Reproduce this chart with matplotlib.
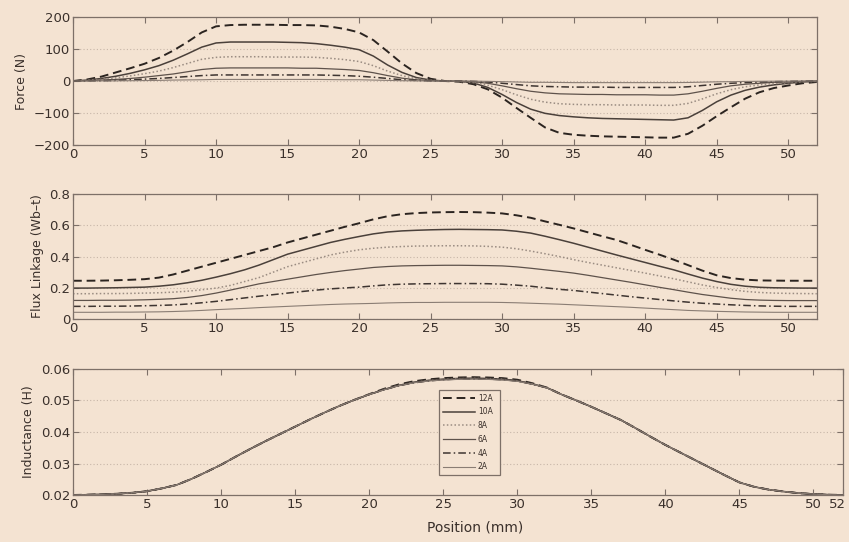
import matplotlib.pyplot as plt
import numpy as np
from matplotlib.transforms import ScaledTranslation

# position along the stroke (mm)
position = np.arange(0, 53)

currents = ['12A', '10A', '8A', '6A', '4A', '2A']

# force (N) vs position
force_12 = [0, 5, 14, 27, 40, 54, 72, 95, 122, 152, 171, 175, 176, 176, 176, 175, 175, 174, 170, 163,
            152, 128, 92, 55, 25, 7, 0, -2, -10, -26, -52, -84, -115, -145, -162, -168, -171, -173, -174, -175,
            -176, -177, -177, -165, -140, -110, -82, -55, -35, -22, -14, -7, -3]
force_10 = [0, 3, 8, 15, 24, 35, 48, 65, 85, 106, 119, 122, 122, 122, 122, 121, 120, 117, 112, 106,
            98, 78, 50, 27, 11, 3, 0, -1, -6, -20, -42, -67, -88, -101, -108, -112, -115, -117, -118, -119,
            -120, -121, -122, -115, -92, -65, -44, -29, -19, -12, -7, -3, -1]
force_8 = [0, 2, 5, 10, 16, 23, 31, 42, 55, 68, 74, 76, 76, 76, 75, 75, 75, 74, 71, 67,
           61, 48, 31, 17, 7, 2, 0, -1, -4, -13, -27, -43, -57, -66, -71, -73, -74, -74, -75, -75,
           -75, -76, -76, -70, -56, -40, -27, -18, -12, -8, -5, -2, -1]
force_6 = [0, 1, 3, 5, 8, 12, 17, 22, 29, 36, 40, 41, 41, 41, 41, 41, 40, 40, 38, 36,
           33, 26, 17, 9, 4, 1, 0, 0, -2, -7, -15, -24, -32, -37, -40, -41, -42, -42, -43, -43,
           -43, -44, -44, -40, -32, -23, -15, -10, -7, -4, -3, -1, 0]
force_4 = [0, 0.5, 1, 2, 4, 6, 8, 11, 14, 17, 19, 19, 19, 19, 19, 19, 19, 19, 18, 17,
           15, 12, 8, 4, 2, 0.5, 0, 0, -1, -3, -7, -11, -15, -17, -18, -19, -19, -19, -20, -20,
           -20, -20, -20, -18, -14, -10, -7, -5, -3, -2, -1, -0.5, 0]
force_2 = [0, 0.2, 0.4, 0.6, 1, 1.5, 2, 3, 3.5, 4, 5, 5, 5, 5, 5, 5, 5, 5, 4.5, 4,
           4, 3, 2, 1, 0.5, 0, 0, 0, -0.5, -1, -2, -3, -4, -4, -4.5, -5, -5, -5, -5, -5,
           -5, -5, -5, -4.5, -3.5, -2.5, -2, -1.2, -0.8, -0.5, -0.3, -0.1, 0]

# flux linkage (Wb-t) vs position
flux_12 = [0.245, 0.245, 0.246, 0.248, 0.251, 0.255, 0.265, 0.285, 0.31, 0.335, 0.36, 0.385, 0.41, 0.435, 0.46, 0.49,
           0.515, 0.54, 0.565, 0.59, 0.613, 0.638, 0.658, 0.671, 0.678, 0.682, 0.684, 0.685, 0.684, 0.681, 0.676,
           0.664, 0.648, 0.625, 0.603, 0.58, 0.555, 0.53, 0.506, 0.475, 0.443, 0.412, 0.38, 0.345, 0.31, 0.28,
           0.262, 0.252, 0.247, 0.246, 0.245, 0.245, 0.245]
flux_10 = [0.198, 0.198, 0.199, 0.2, 0.202, 0.204, 0.21, 0.219, 0.232, 0.248, 0.268, 0.29, 0.315, 0.345, 0.38, 0.415,
           0.44, 0.465, 0.49, 0.51, 0.528, 0.545, 0.557, 0.564, 0.568, 0.571, 0.573, 0.574, 0.573, 0.572, 0.57,
           0.562, 0.55, 0.53, 0.508, 0.485, 0.46, 0.435, 0.41, 0.386, 0.362, 0.338, 0.315, 0.288, 0.262, 0.24,
           0.222, 0.21, 0.203, 0.2, 0.199, 0.198, 0.198]
flux_8 = [0.162, 0.162, 0.163, 0.163, 0.164, 0.166, 0.168, 0.172, 0.178, 0.187, 0.198, 0.215, 0.24, 0.265, 0.3, 0.335,
          0.36, 0.385, 0.41, 0.428, 0.443, 0.453, 0.46, 0.464, 0.467, 0.468, 0.469, 0.469, 0.468, 0.465, 0.46,
          0.45, 0.435, 0.418, 0.4, 0.38, 0.362, 0.345, 0.328, 0.311, 0.294, 0.276, 0.258, 0.238, 0.218, 0.202,
          0.188, 0.177, 0.17, 0.166, 0.164, 0.163, 0.162]
flux_6 = [0.119, 0.119, 0.12, 0.12, 0.121, 0.123, 0.126, 0.13, 0.138, 0.15, 0.166, 0.185, 0.205, 0.225, 0.24, 0.255,
          0.27, 0.285, 0.298, 0.31, 0.32, 0.33, 0.336, 0.34, 0.342, 0.343, 0.344, 0.344, 0.343, 0.342, 0.34,
          0.334, 0.325, 0.315, 0.305, 0.294, 0.28, 0.265, 0.25, 0.235, 0.219, 0.203, 0.188, 0.172, 0.157, 0.145,
          0.133, 0.125, 0.121, 0.119, 0.118, 0.118, 0.118]
flux_4 = [0.081, 0.081, 0.082, 0.082, 0.083, 0.085, 0.087, 0.09, 0.096, 0.104, 0.113, 0.124, 0.135, 0.146, 0.156, 0.166,
          0.176, 0.185, 0.193, 0.199, 0.204, 0.212, 0.219, 0.223, 0.225, 0.226, 0.227, 0.227, 0.227, 0.226, 0.223,
          0.217, 0.21, 0.2, 0.19, 0.183, 0.173, 0.163, 0.153, 0.143, 0.134, 0.125, 0.116, 0.108, 0.101, 0.096,
          0.091, 0.087, 0.084, 0.082, 0.081, 0.081, 0.081]
flux_2 = [0.043, 0.043, 0.043, 0.044, 0.044, 0.045, 0.046, 0.048, 0.051, 0.055, 0.06, 0.064, 0.068, 0.073, 0.077, 0.081,
          0.085, 0.089, 0.093, 0.096, 0.098, 0.1, 0.103, 0.105, 0.106, 0.106, 0.107, 0.107, 0.107, 0.107, 0.106,
          0.104, 0.101, 0.098, 0.095, 0.091, 0.087, 0.083, 0.079, 0.075, 0.07, 0.065, 0.06, 0.055, 0.052, 0.049,
          0.047, 0.045, 0.044, 0.043, 0.043, 0.043, 0.043]

# inductance (H) vs position
ind_12 = [0.0200, 0.0201, 0.0202, 0.0204, 0.0207, 0.0212, 0.0221, 0.0232, 0.0251, 0.0273, 0.0296, 0.0322, 0.0347,
          0.0371, 0.0394, 0.0417, 0.0440, 0.0462, 0.0483, 0.0502, 0.0520, 0.0537, 0.0551, 0.0561, 0.0567, 0.0571,
          0.0573, 0.0574, 0.0573, 0.0571, 0.0566, 0.0555, 0.0541, 0.0519, 0.0500, 0.0480, 0.0459, 0.0438, 0.0412,
          0.0385, 0.0359, 0.0335, 0.0311, 0.0287, 0.0263, 0.0240, 0.0226, 0.0217, 0.0211, 0.0206, 0.0203, 0.0201,
          0.0200]
ind_10 = [0.0200, 0.0201, 0.0202, 0.0204, 0.0207, 0.0212, 0.0221, 0.0232, 0.0251, 0.0273, 0.0296, 0.0322, 0.0347,
          0.0371, 0.0394, 0.0417, 0.0440, 0.0462, 0.0483, 0.0502, 0.0519, 0.0535, 0.0548, 0.0558, 0.0564, 0.0568,
          0.0570, 0.0571, 0.0570, 0.0568, 0.0563, 0.0553, 0.0541, 0.0519, 0.0500, 0.0480, 0.0459, 0.0438, 0.0412,
          0.0385, 0.0359, 0.0335, 0.0311, 0.0287, 0.0263, 0.0240, 0.0226, 0.0217, 0.0211, 0.0206, 0.0203, 0.0201,
          0.0200]
ind_8 = [0.0200, 0.0201, 0.0202, 0.0204, 0.0207, 0.0212, 0.0221, 0.0232, 0.0251, 0.0273, 0.0296, 0.0322, 0.0347,
         0.0371, 0.0394, 0.0417, 0.0440, 0.0462, 0.0483, 0.0502, 0.0519, 0.0535, 0.0548, 0.0557, 0.0563, 0.0567,
         0.0569, 0.0570, 0.0569, 0.0567, 0.0562, 0.0553, 0.0541, 0.0519, 0.0500, 0.0480, 0.0459, 0.0438, 0.0412,
         0.0385, 0.0359, 0.0335, 0.0311, 0.0287, 0.0263, 0.0240, 0.0226, 0.0217, 0.0211, 0.0206, 0.0203, 0.0201,
         0.0200]
ind_6 = [0.0200, 0.0201, 0.0202, 0.0204, 0.0207, 0.0212, 0.0221, 0.0232, 0.0251, 0.0273, 0.0296, 0.0322, 0.0347,
         0.0371, 0.0394, 0.0417, 0.0440, 0.0462, 0.0483, 0.0502, 0.0519, 0.0534, 0.0547, 0.0557, 0.0563, 0.0566,
         0.0568, 0.0569, 0.0568, 0.0566, 0.0562, 0.0552, 0.0540, 0.0519, 0.0500, 0.0480, 0.0459, 0.0438, 0.0412,
         0.0385, 0.0359, 0.0335, 0.0311, 0.0287, 0.0263, 0.0240, 0.0226, 0.0217, 0.0211, 0.0206, 0.0203, 0.0201,
         0.0200]
ind_4 = [0.0200, 0.0201, 0.0202, 0.0204, 0.0207, 0.0212, 0.0221, 0.0232, 0.0251, 0.0273, 0.0296, 0.0322, 0.0347,
         0.0371, 0.0394, 0.0417, 0.0440, 0.0462, 0.0483, 0.0502, 0.0519, 0.0534, 0.0547, 0.0556, 0.0562, 0.0566,
         0.0568, 0.0568, 0.0568, 0.0566, 0.0562, 0.0552, 0.0540, 0.0519, 0.0500, 0.0480, 0.0459, 0.0438, 0.0412,
         0.0385, 0.0359, 0.0335, 0.0311, 0.0287, 0.0263, 0.0240, 0.0226, 0.0217, 0.0211, 0.0206, 0.0203, 0.0201,
         0.0200]
ind_2 = [0.0200, 0.0201, 0.0202, 0.0204, 0.0207, 0.0212, 0.0221, 0.0232, 0.0251, 0.0273, 0.0296, 0.0322, 0.0347,
         0.0371, 0.0394, 0.0417, 0.0440, 0.0462, 0.0483, 0.0502, 0.0519, 0.0534, 0.0547, 0.0556, 0.0562, 0.0565,
         0.0567, 0.0568, 0.0567, 0.0565, 0.0561, 0.0552, 0.0540, 0.0519, 0.0500, 0.0480, 0.0459, 0.0438, 0.0412,
         0.0385, 0.0359, 0.0335, 0.0311, 0.0287, 0.0263, 0.0240, 0.0226, 0.0217, 0.0211, 0.0206, 0.0203, 0.0201,
         0.0200]

bg = '#f4e3d2'
ink = '#3a302b'
frame = '#7d7068'

# line style per current: (linestyle, colour, width)
styles = [
    ((0, (4.5, 2.5)), '#2b2420', 1.4),
    ('-', '#4a403a', 1.1),
    ((0, (1, 1.5)), '#9a8c82', 1.1),
    ('-', '#5e524b', 0.9),
    ((0, (5, 2, 1, 2)), '#3e3531', 1.1),
    ('-', '#8a7d74', 0.8),
]

plt.rcParams['font.family'] = 'DejaVu Sans'
plt.rcParams['text.color'] = ink
plt.rcParams['axes.labelcolor'] = ink
plt.rcParams['xtick.color'] = ink
plt.rcParams['ytick.color'] = ink

fig = plt.figure(figsize=(8.49, 5.42), dpi=100, facecolor=bg)
ax1 = fig.add_axes([0.086, 0.7325, 0.876, 0.236])
ax2 = fig.add_axes([0.086, 0.4114, 0.876, 0.2306])
ax3 = fig.add_axes([0.086, 0.0867, 0.907, 0.2325])


def style_axes(ax):
    ax.set_facecolor(bg)
    for s in ax.spines.values():
        s.set_color(frame)
        s.set_linewidth(0.9)
    ax.tick_params(direction='in', top=True, right=True, length=4, width=0.8,
                   color=frame, labelsize=9.5, pad=2)
    ax.yaxis.grid(True, linestyle=(0, (1, 2)), color='#c7b6a8', linewidth=0.8)
    ax.set_axisbelow(True)
    ax.set_xlim(0, 52)


for series, st in zip([force_12, force_10, force_8, force_6, force_4, force_2], styles):
    ax1.plot(position, series, linestyle=st[0], color=st[1], linewidth=st[2])
style_axes(ax1)
ax1.set_ylim(-200, 200)
ax1.set_yticks([-200, -100, 0, 100, 200])
ax1.set_xticks(np.arange(0, 51, 5))
ax1.set_ylabel('Force (N)', fontsize=9)

for series, st in zip([flux_12, flux_10, flux_8, flux_6, flux_4, flux_2], styles):
    ax2.plot(position, series, linestyle=st[0], color=st[1], linewidth=st[2])
style_axes(ax2)
ax2.set_ylim(0, 0.8)
ax2.set_yticks([0, 0.2, 0.4, 0.6, 0.8])
ax2.set_yticklabels(['0', '0.2', '0.4', '0.6', '0.8'])
ax2.set_xticks(np.arange(0, 51, 5))
ax2.set_ylabel('Flux Linkage (Wb\u2013t)', fontsize=9)

for series, st, lab in zip([ind_12, ind_10, ind_8, ind_6, ind_4, ind_2], styles, currents):
    ax3.plot(position, series, linestyle=st[0], color=st[1], linewidth=st[2], label=lab)
style_axes(ax3)
ax3.set_ylim(0.02, 0.06)
ax3.set_yticks([0.02, 0.03, 0.04, 0.05, 0.06])
ax3.set_xticks(list(range(0, 51, 5)) + [52])
ax3.set_ylabel('Inductance (H)', fontsize=9)
ax3.set_xlabel('Position (mm)', fontsize=10)
ax3.xaxis.set_label_coords(0.522, -0.2)
# nudge the "52" label left so it stays inside the figure
last = ax3.get_xticklabels()[-1]
last.set_transform(last.get_transform() + ScaledTranslation(-6 / 100, 0, fig.dpi_scale_trans))

leg = ax3.legend(loc='lower left', bbox_to_anchor=(0.47, 0.127, 0.09, 0.5), mode='expand',
                 fontsize=5.5, handlelength=4.3, handletextpad=0.3, labelspacing=0.62,
                 borderpad=0.5, fancybox=False, facecolor=bg, edgecolor=frame, framealpha=1)
leg.get_frame().set_linewidth(0.9)

fig.savefig('out.png', dpi=100, facecolor=bg)
